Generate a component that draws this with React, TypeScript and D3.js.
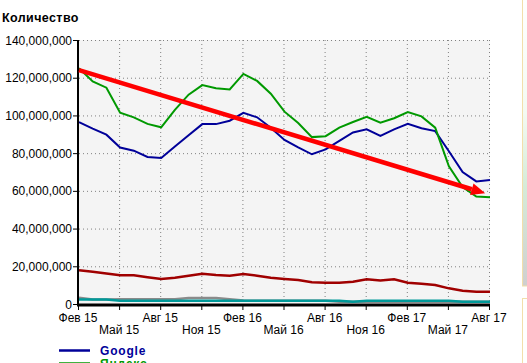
import { useMemo } from "react";
import * as d3 from "d3";

const WIDTH = 527;
const HEIGHT = 363;
const MARGIN = { top: 40, right: 37, bottom: 59, left: 79 };

// one point per month, Feb 2015 .. Aug 2017 (values in millions)
const MONTHS = [
  "Фев 15", "Мар 15", "Апр 15", "Май 15", "Июн 15", "Июл 15", "Авг 15", "Сен 15",
  "Окт 15", "Ноя 15", "Дек 15", "Янв 16", "Фев 16", "Мар 16", "Апр 16", "Май 16",
  "Июн 16", "Июл 16", "Авг 16", "Сен 16", "Окт 16", "Ноя 16", "Дек 16", "Янв 17",
  "Фев 17", "Мар 17", "Апр 17", "Май 17", "Июн 17", "Июл 17", "Авг 17"
];

const GOOGLE = [
  96.4, 93, 89.8, 83, 81.3, 78, 77.4, 83.5, 89.5, 95.4, 95.4, 97.2, 101.4, 99, 93.5, 87,
  83, 79.4, 82, 86.5, 91, 92.6, 89.2, 92.6, 95.6, 93.2, 91.7, 81, 70, 65, 65.7
];

const YANDEX = [
  125, 118, 114.7, 101.4, 99, 95.5, 93.7, 103, 111, 116.1, 114.4, 113.8, 122, 118.3, 111.5, 102,
  96, 88.5, 89, 93.5, 96.5, 99.3, 96.1, 98.5, 101.8, 99.5, 93.5, 73, 62, 57, 56.6
];

const MAILRU = [
  17.9, 17.1, 16.2, 15.2, 15.2, 14.2, 13.3, 13.9, 15, 16, 15.4, 15, 15.9, 15, 13.9, 13.3,
  12.7, 11.5, 11.3, 11.3, 11.8, 13.1, 12.4, 13.1, 11.3, 10.8, 10.1, 8.3, 7, 6.5, 6.5
];

const GRAY_SERIES = [
  3.3, 2.4, 2.4, 2.5, 2.5, 2.5, 2.5, 2.5, 3.2, 3.2, 3.2, 2.5, 1.9, 1.7, 1.7, 1.7,
  1.7, 1.7, 1.7, 1.2, 1.2, 1.2, 1.2, 1.2, 1.2, 1.2, 1.2, 1.2, 1.2, 1.2, 1.2
];

const TEAL_SERIES = [
  2.4, 2.4, 2.4, 1.7, 1.7, 1.7, 1.7, 1.7, 1.7, 1.7, 1.7, 1.7, 1.7, 1.7, 1.7, 1.7,
  1.7, 1.7, 1.7, 1.7, 1.2, 1.7, 1.7, 1.7, 1.7, 1.7, 1.7, 1.7, 1.2, 1.2, 1.2
];

const Y_TICKS = [0, 20, 40, 60, 80, 100, 120, 140];
const X_TICK_STEP = 3;

// trend arrow: [month index, millions]
const TREND_START = [0, 124];
const TREND_END = [29.65, 58.7];

const LEGEND = [
  { name: "Google", color: "#000099" },
  { name: "Яндекс", color: "#009900" }
];

const FONT = "'Liberation Sans', Arial, sans-serif";

export default function App() {
  const x = useMemo(
    () => d3.scaleLinear().domain([0, MONTHS.length - 1]).range([MARGIN.left, WIDTH - MARGIN.right]),
    []
  );
  const y = useMemo(
    () => d3.scaleLinear().domain([0, 140]).range([HEIGHT - MARGIN.bottom, MARGIN.top]),
    []
  );

  const line = d3
    .line<number>()
    .x((_, i) => x(i))
    .y((v) => y(v));

  const x0 = x(0);
  const x1 = x(MONTHS.length - 1);
  const yTop = y(140);
  const yBottom = y(0);

  const xTicks = d3.range(0, MONTHS.length, X_TICK_STEP);
  const fmt = d3.format(",");

  // arrow geometry
  const ax0 = x(TREND_START[0]);
  const ay0 = y(TREND_START[1]);
  const ax1 = x(TREND_END[0]);
  const ay1 = y(TREND_END[1]);
  const angle = Math.atan2(ay1 - ay0, ax1 - ax0);
  const headLen = 14;
  const headHalf = 6;
  const bx = ax1 - headLen * Math.cos(angle);
  const by = ay1 - headLen * Math.sin(angle);
  const nx = -Math.sin(angle);
  const ny = Math.cos(angle);
  const head = `M${ax1},${ay1}L${bx + nx * headHalf},${by + ny * headHalf}L${bx - nx * headHalf},${by - ny * headHalf}Z`;

  return (
    <svg
      width={WIDTH}
      height={HEIGHT}
      viewBox={`0 0 ${WIDTH} ${HEIGHT}`}
      style={{ position: "absolute", left: 0, top: 0, background: "#fff" }}
      fontFamily={FONT}
    >
      <defs>
        <linearGradient id="sidePanel" x1="0" x2="0" y1="0" y2="1">
          <stop offset="0%" stopColor="#ffffff" />
          <stop offset="40%" stopColor="#f4faf2" />
          <stop offset="65%" stopColor="#d6ecd8" />
          <stop offset="100%" stopColor="#cfcfcf" />
        </linearGradient>
      </defs>

      {/* neighbouring panels on the right edge */}
      <rect x={522.5} y={-2} width={10} height={288} fill="url(#sidePanel)" stroke="#f2dfaa" />
      <rect x={522.5} y={298.5} width={10} height={70} fill="#fff" stroke="#f2dfaa" />

      <text x={2} y={22} fontSize={12.5} fontWeight="bold" letterSpacing={0.4} fill="#000">
        Количество
      </text>

      <rect x={x0} y={yTop} width={x1 - x0} height={yBottom - yTop} fill="#f4f4f4" />

      {Y_TICKS.map((t) => (
        <g key={t}>
          {t > 0 && (
            <line x1={x0} x2={x1} y1={y(t) + 0.5} y2={y(t) + 0.5} stroke="#808080" strokeDasharray="1 3" />
          )}
          <line x1={x0 - 6} x2={x0} y1={y(t) + 0.5} y2={y(t) + 0.5} stroke="#000" />
          <text x={72} y={y(t) + 4.5} fontSize={12} textAnchor="end" fill="#000">
            {fmt(t * 1e6)}
          </text>
        </g>
      ))}

      {xTicks.map((i, k) => (
        <g key={i}>
          {i > 0 && (
            <line x1={x(i) - 0.5} x2={x(i) - 0.5} y1={yTop} y2={yBottom} stroke="#808080" strokeDasharray="1 3" />
          )}
          <line x1={x(i) - 0.5} x2={x(i) - 0.5} y1={yBottom} y2={yBottom + 6} stroke="#000" />
          <text x={x(i) - 1} y={k % 2 === 0 ? 322 : 334} fontSize={12} textAnchor="middle" fill="#000">
            {MONTHS[i]}
          </text>
        </g>
      ))}

      <path d={line(GRAY_SERIES) ?? ""} fill="none" stroke="#8a8a8a" strokeWidth={2.5} />
      <path d={line(TEAL_SERIES) ?? ""} fill="none" stroke="#009999" strokeWidth={2.5} />
      <path d={line(MAILRU) ?? ""} fill="none" stroke="#a00000" strokeWidth={2.5} />
      <path d={line(GOOGLE) ?? ""} fill="none" stroke="#000099" strokeWidth={2} />
      <path d={line(YANDEX) ?? ""} fill="none" stroke="#009900" strokeWidth={2} />

      <line x1={x0 - 1} x2={x0 - 1} y1={yTop} y2={yBottom + 2} stroke="#000" strokeWidth={2} />
      <line x1={x0 - 2} x2={x1} y1={yBottom + 1} y2={yBottom + 1} stroke="#000" strokeWidth={3} />

      <line x1={ax0} y1={ay0} x2={bx} y2={by} stroke="#ff0000" strokeWidth={4.5} />
      <path d={head} fill="#ff0000" />

      {LEGEND.map((d, i) => (
        <g key={d.name}>
          <line x1={59} x2={90} y1={350.5 + i * 13} y2={350.5 + i * 13} stroke={d.color} strokeWidth={2.5} />
          <text x={100} y={355 + i * 13} fontSize={12} fontWeight="bold" letterSpacing={0.8} fill={d.color}>
            {d.name}
          </text>
        </g>
      ))}
    </svg>
  );
}
